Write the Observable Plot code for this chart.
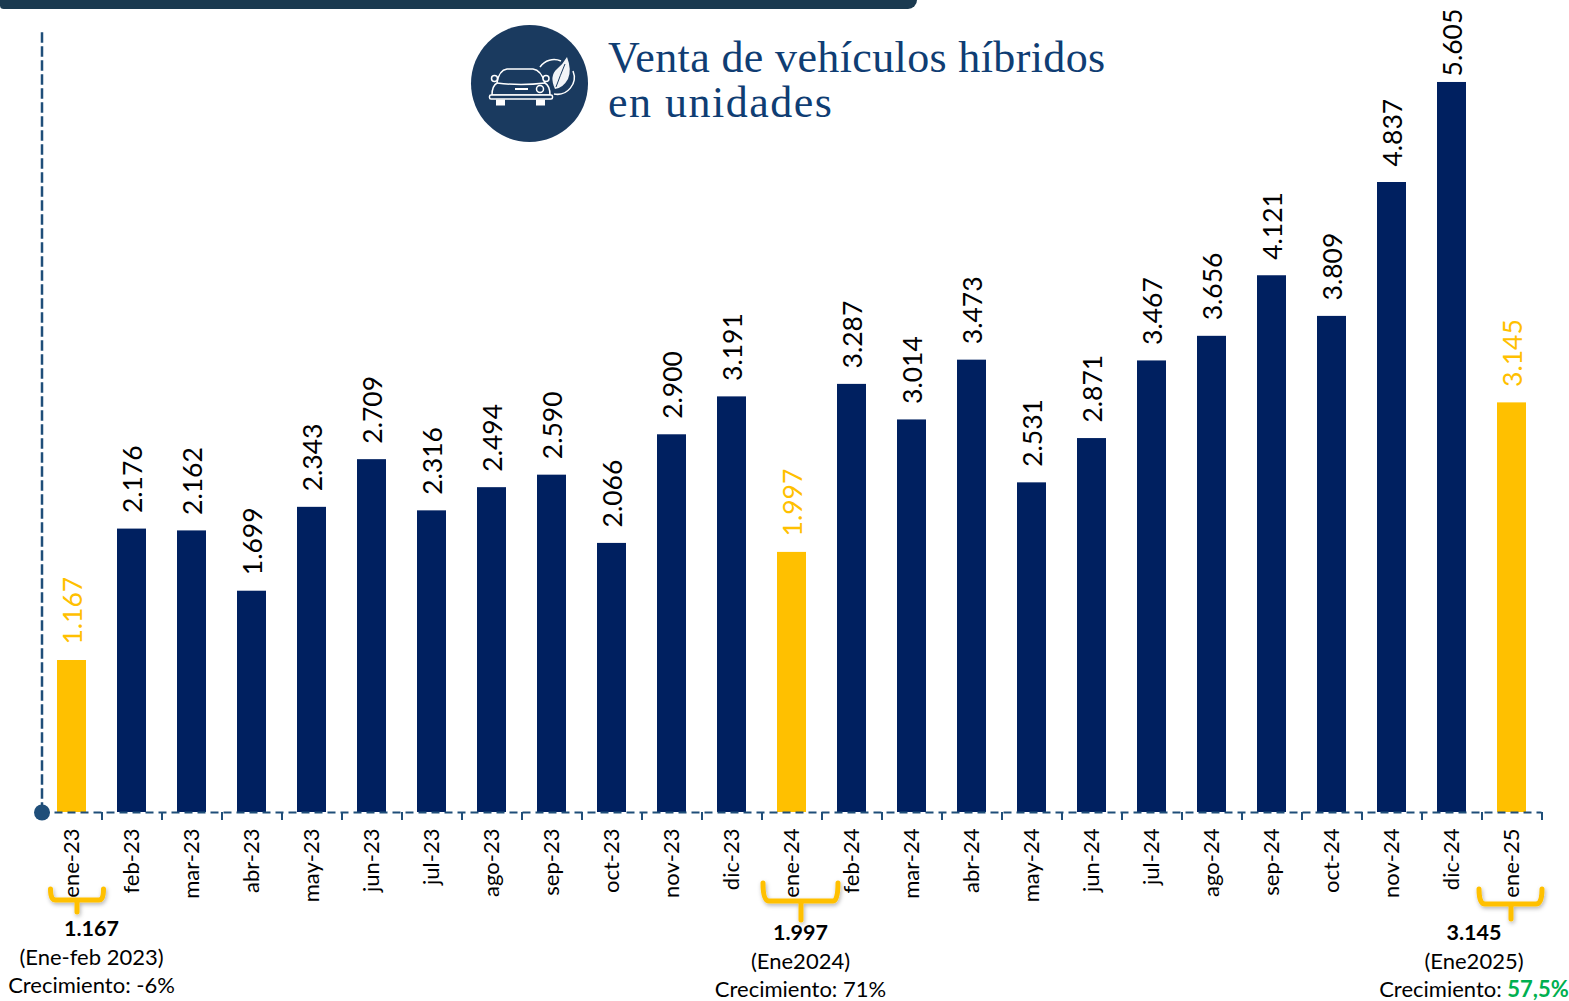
<!DOCTYPE html>
<html lang="es"><head><meta charset="utf-8">
<script src="https://cdn.jsdelivr.net/npm/d3@7"></script>
<script src="https://cdn.jsdelivr.net/npm/@observablehq/plot@0.6"></script>
<style>
html,body{margin:0;padding:0;background:#fff;width:1569px;height:1001px;overflow:hidden}
#wrap{position:relative;width:1569px;height:1001px;font-family:Lato,sans-serif;color:#000}
#wrap svg{position:absolute;left:0;top:0}
#bar{position:absolute;left:0;top:0;width:917px;height:9px;background:#1b3a50;border-radius:0 0 14px 6px}
#title{position:absolute;left:608px;top:35px;font-family:"Liberation Serif",serif;font-size:44px;line-height:45px;color:#0f3d73;white-space:nowrap}
#title .l1{letter-spacing:.37px}#title .l2{letter-spacing:1.5px}
.note{position:absolute;text-align:center;font-size:22px;line-height:28.7px;white-space:nowrap;transform:translateX(-50%)}
.note b{font-weight:700;font-size:21.5px}.up{color:#00b050;font-weight:700}
</style></head><body><div id="wrap"></div>
<script>
const months = ["ene-23","feb-23","mar-23","abr-23","may-23","jun-23","jul-23","ago-23","sep-23","oct-23","nov-23","dic-23","ene-24","feb-24","mar-24","abr-24","may-24","jun-24","jul-24","ago-24","sep-24","oct-24","nov-24","dic-24","ene-25"];
const sales = [1167,2176,2162,1699,2343,2709,2316,2494,2590,2066,2900,3191,1997,3287,3014,3473,2531,2871,3467,3656,4121,3809,4837,5605,3145];
const highlighted = ["ene-23","ene-24","ene-25"];
const titleLines = ["Venta de vehículos híbridos","en unidades"];
const noteValues = ["1.167","1.997","3.145"];
const notePeriods = ["(Ene-feb 2023)","(Ene2024)","(Ene2025)"];
const noteGrowth = ["-6%","71%","57,5%"];

const NAVY="#002060", GOLD="#FFC000", AXIS="#1f4e79";
const fmt = d3.formatLocale({decimal:",",thousands:".",grouping:[3],currency:["",""]}).format(",d");
const rows = months.map((m,i)=>({month:m,value:sales[i],hi:highlighted.includes(m)}));
const peak = d3.max(sales);

const chart = Plot.plot({
  width:1569,height:1001,
  marginLeft:41.5,marginRight:27.5,marginTop:33,marginBottom:189,
  style:{fontFamily:"Lato, sans-serif",background:"transparent",overflow:"visible",color:"#000"},
  x:{type:"band",domain:months,paddingInner:0.5167,paddingOuter:0.25835,align:0.5},
  y:{domain:[0,5981],axis:null},
  color:{type:"identity"},
  marks:[
    Plot.barY(rows,{x:"month",y:"value",fill:d=>d.hi?GOLD:NAVY}),
    Plot.ruleY([0],{stroke:AXIS,strokeWidth:2,strokeDasharray:"8 5"}),
    Plot.frame({anchor:"left",stroke:AXIS,strokeWidth:2.5,strokeDasharray:"8 6"}),
    Plot.dot([0],{frameAnchor:"bottom-left",r:8,fill:AXIS}),
    Plot.axisX({anchor:"bottom",dx:30,tickSize:8,tickFormat:()=>"",stroke:AXIS,strokeWidth:2,label:null}),
    Plot.axisX({anchor:"bottom",tickSize:0,tickPadding:16,tickRotate:-90,fontSize:22,fill:"#000",label:null}),
    Plot.text(rows.filter(d=>d.value<peak),{x:"month",y:"value",text:d=>fmt(d.value),rotate:-90,textAnchor:"start",lineAnchor:"middle",dx:2,dy:-16,fontSize:26.5,fill:d=>d.hi?GOLD:"#000"}),
    Plot.text(rows.filter(d=>d.value===peak),{x:"month",y:"value",text:d=>fmt(d.value),rotate:-90,textAnchor:"start",lineAnchor:"middle",dx:2,dy:-6,fontSize:26.5,fill:"#000"})
  ]
});
const wrap=document.getElementById("wrap");
wrap.appendChild(chart);

const bar=document.createElement("div");bar.id="bar";wrap.appendChild(bar);
const t=document.createElement("div");t.id="title";t.innerHTML=titleLines.map((l,i)=>`<span class="l${i+1}">${l}</span>`).join("<br>");wrap.appendChild(t);

const deco=`<svg width="1569" height="1001" viewBox="0 0 1569 1001" style="pointer-events:none">
<defs><filter id="sh" x="-20%" y="-20%" width="140%" height="160%"><feDropShadow dx="1" dy="2" stdDeviation="2" flood-color="#000" flood-opacity=".3"/></filter></defs>
<circle cx="529.5" cy="83.500" r="58.500" fill="#1a3a5f"/>
<g fill="none" stroke="#fff" stroke-width="1.500" stroke-linejoin="round">
<path d="M540 67A17 17 0 0 1 561 61M554 94A17 17 0 0 0 573 71"/>
</g>
<path d="M555 89Q549 76 557 69Q563 64 567 57Q572 70 568 79Q563 88 555 89z" fill="#f2f4f7"/>
<path d="M556 87Q560 76 565 64" fill="none" stroke="#1a3a5f" stroke-width="1"/>
<g fill="#1a3a5f" stroke="#fff" stroke-width="1.500" stroke-linejoin="round">
<path d="M492 95Q492 86 497 83Q499 70 507 69H533Q541 70 545 83Q550 86 550 95z"/>
<path d="M497 83Q521 86 545 83" fill="none"/>
<circle cx="494.500" cy="78.500" r="3"/><circle cx="546" cy="78.500" r="3"/>
<circle cx="540" cy="89" r="3.500"/>
<rect x="489.500" y="95" width="63" height="4" rx="1.500"/>
</g>
<rect x="515" y="88" width="13" height="2" fill="#fff"/>
<rect x="496" y="99.500" width="9" height="6" fill="#fff"/><rect x="536" y="99.500" width="9" height="6" fill="#fff"/>
<g fill="none" stroke="${GOLD}" stroke-width="5" stroke-linecap="round" stroke-linejoin="round" filter="url(#sh)">
<path d="M50.500 889q0 11 5 11H99q4.500 0 4.500-11M77 900v12"/>
<path d="M763 883q0 18 6 18H833q5 0 5-18M801 901v19"/>
<path d="M1479 889q0 15 6 15H1536q6 0 6-15M1511 904v15"/>
</g></svg>`;
wrap.insertAdjacentHTML("beforeend",deco);

const notePos=[[91.5,914],[800.5,918],[1474,918]];
notePos.forEach(([cx,top],i)=>{
  const n=document.createElement("div");n.className="note";n.style.left=cx+"px";n.style.top=top+"px";
  n.innerHTML=`<b>${noteValues[i]}</b><br>${notePeriods[i]}<br>Crecimiento: ${i==2?`<span class="up">${noteGrowth[i]}</span>`:noteGrowth[i]}`;
  wrap.appendChild(n);
});
</script></body></html>
